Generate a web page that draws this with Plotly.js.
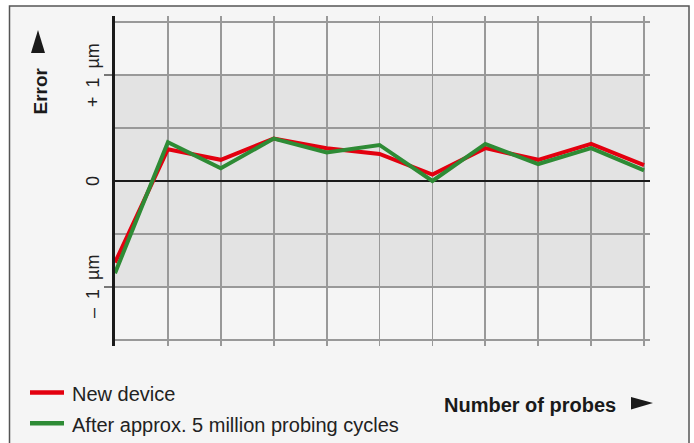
<!DOCTYPE html>
<html>
<head>
<meta charset="utf-8">
<script src="https://cdn.plot.ly/plotly-3.0.1.min.js"></script>
<style>html,body{margin:0;padding:0;background:#fff;}#chart{width:694px;height:443px;}</style>
</head>
<body>
<div id="chart"></div>
<script>
// ---- data ----
const probes = [0, 1, 2, 3, 4, 5, 6, 7, 8, 9, 10];
const newDevice = [-0.77, 0.30, 0.20, 0.40, 0.31, 0.255, 0.06, 0.31, 0.20, 0.35, 0.15];
const afterCycles = [-0.87, 0.365, 0.12, 0.40, 0.27, 0.34, 0.0, 0.35, 0.16, 0.31, 0.10];
const seriesNames = ['New device', 'After approx. 5 million probing cycles'];
const seriesColors = ['#e3000f', '#2e8b35'];
const yTickVals = [1, 0, -1];
const yTickText = ['+\u20021\u2002µm', '0', '–\u20021\u2002µm'];
const yMinorVals = [-1.5, -0.5, 0.5, 1.5];
const bandRange = [-1, 1];
const yTitle = 'Error';
const xTitle = 'Number of probes';

// ---- geometry helpers (paper coords from pixel) ----
const W = 694, H = 443, M = {l: 115, r: 44, t: 16, b: 97};
const pw = W - M.l - M.r, ph = H - M.t - M.b;
const px = x => (x - M.l) / pw;
const py = y => (H - M.b - y) / ph;

const FONT = '"Liberation Sans", Arial, sans-serif';
const traces = [
  {x: probes, y: newDevice, name: seriesNames[0], mode: 'lines',
   line: {color: seriesColors[0], width: 4, shape: 'linear'}},
  {x: probes, y: afterCycles, name: seriesNames[1], mode: 'lines',
   line: {color: seriesColors[1], width: 4, shape: 'linear'}}
];

const shapes = [
  // outer frame
  {type: 'rect', xref: 'paper', yref: 'paper', x0: px(9.5), x1: px(689), y0: py(450), y1: py(6),
   fillcolor: '#f5f5f5', line: {color: '#555', width: 1.5}, layer: 'below'},
  // shaded tolerance band
  {type: 'rect', xref: 'x', yref: 'y', x0: probes[0], x1: probes[probes.length - 1],
   y0: bandRange[0], y1: bandRange[1], fillcolor: '#e3e3e3', line: {width: 0}, layer: 'below'},
  // arrow for x title
  {type: 'path', xref: 'paper', yref: 'paper',
   path: `M ${px(631)},${py(397)} L ${px(653)},${py(403)} L ${px(631)},${py(409.5)} Z`,
   fillcolor: '#1a1a1a', line: {width: 0}},
  // arrow for y title
  {type: 'path', xref: 'paper', yref: 'paper',
   path: `M ${px(31)},${py(53)} L ${px(38)},${py(30)} L ${px(45)},${py(53)} Z`,
   fillcolor: '#1a1a1a', line: {width: 0}}
];
// legend swatches
const legY = [392.5, 423.3];
seriesNames.forEach((n, i) => {
  shapes.push({type: 'line', xref: 'paper', yref: 'paper', x0: px(30), x1: px(64), y0: py(legY[i]), y1: py(legY[i]),
    line: {color: seriesColors[i], width: 4.5}});
});

const annotations = [];
yTickVals.forEach((v, i) => {
  annotations.push({xref: 'paper', yref: 'y', x: px(93), y: v, text: yTickText[i], showarrow: false,
    textangle: -90, xanchor: 'center', yanchor: 'middle', font: {family: FONT, size: 18, color: '#222'}});
});
seriesNames.forEach((n, i) => {
  annotations.push({xref: 'paper', yref: 'paper', x: px(70), y: py(legY[i] + 1.5), text: n, showarrow: false,
    xanchor: 'left', yanchor: 'middle', font: {family: FONT, size: 20, color: '#222'}});
});
annotations.push({xref: 'paper', yref: 'paper', x: px(618), y: py(404.5), text: '<b>' + xTitle + '</b>', showarrow: false,
  xanchor: 'right', yanchor: 'middle', font: {family: FONT, size: 20, color: '#1a1a1a'}});
annotations.push({xref: 'paper', yref: 'paper', x: px(39.5), y: py(91), text: '<b>' + yTitle + '</b>', showarrow: false,
  textangle: -90, xanchor: 'center', yanchor: 'middle', font: {family: FONT, size: 19, color: '#1a1a1a'}});

const layout = {
  width: W, height: H, margin: M,
  paper_bgcolor: '#ffffff', plot_bgcolor: '#f5f5f5',
  showlegend: false,
  font: {family: FONT},
  xaxis: {range: [0, 10.113], tickvals: probes, showticklabels: false, ticks: '',
    showgrid: true, gridcolor: '#999', gridwidth: 1.8, zeroline: false, showline: false, fixedrange: true},
  yaxis: {range: [-1.557, 1.557], tickvals: [1, -1], showticklabels: false, ticks: 'outside', ticklen: 8,
    tickwidth: 1.6, tickcolor: '#777', showgrid: true, gridcolor: '#999', gridwidth: 1.8,
    minor: {tickvals: yMinorVals, showgrid: true, gridcolor: '#999', gridwidth: 1.8, ticks: ''},
    zeroline: true, zerolinecolor: '#1a1a1a', zerolinewidth: 2.7,
    showline: true, linecolor: '#1a1a1a', linewidth: 2.7, fixedrange: true},
  shapes: shapes,
  annotations: annotations
};

Plotly.newPlot('chart', traces, layout, {displayModeBar: false, staticPlot: true});
</script>
</body>
</html>
